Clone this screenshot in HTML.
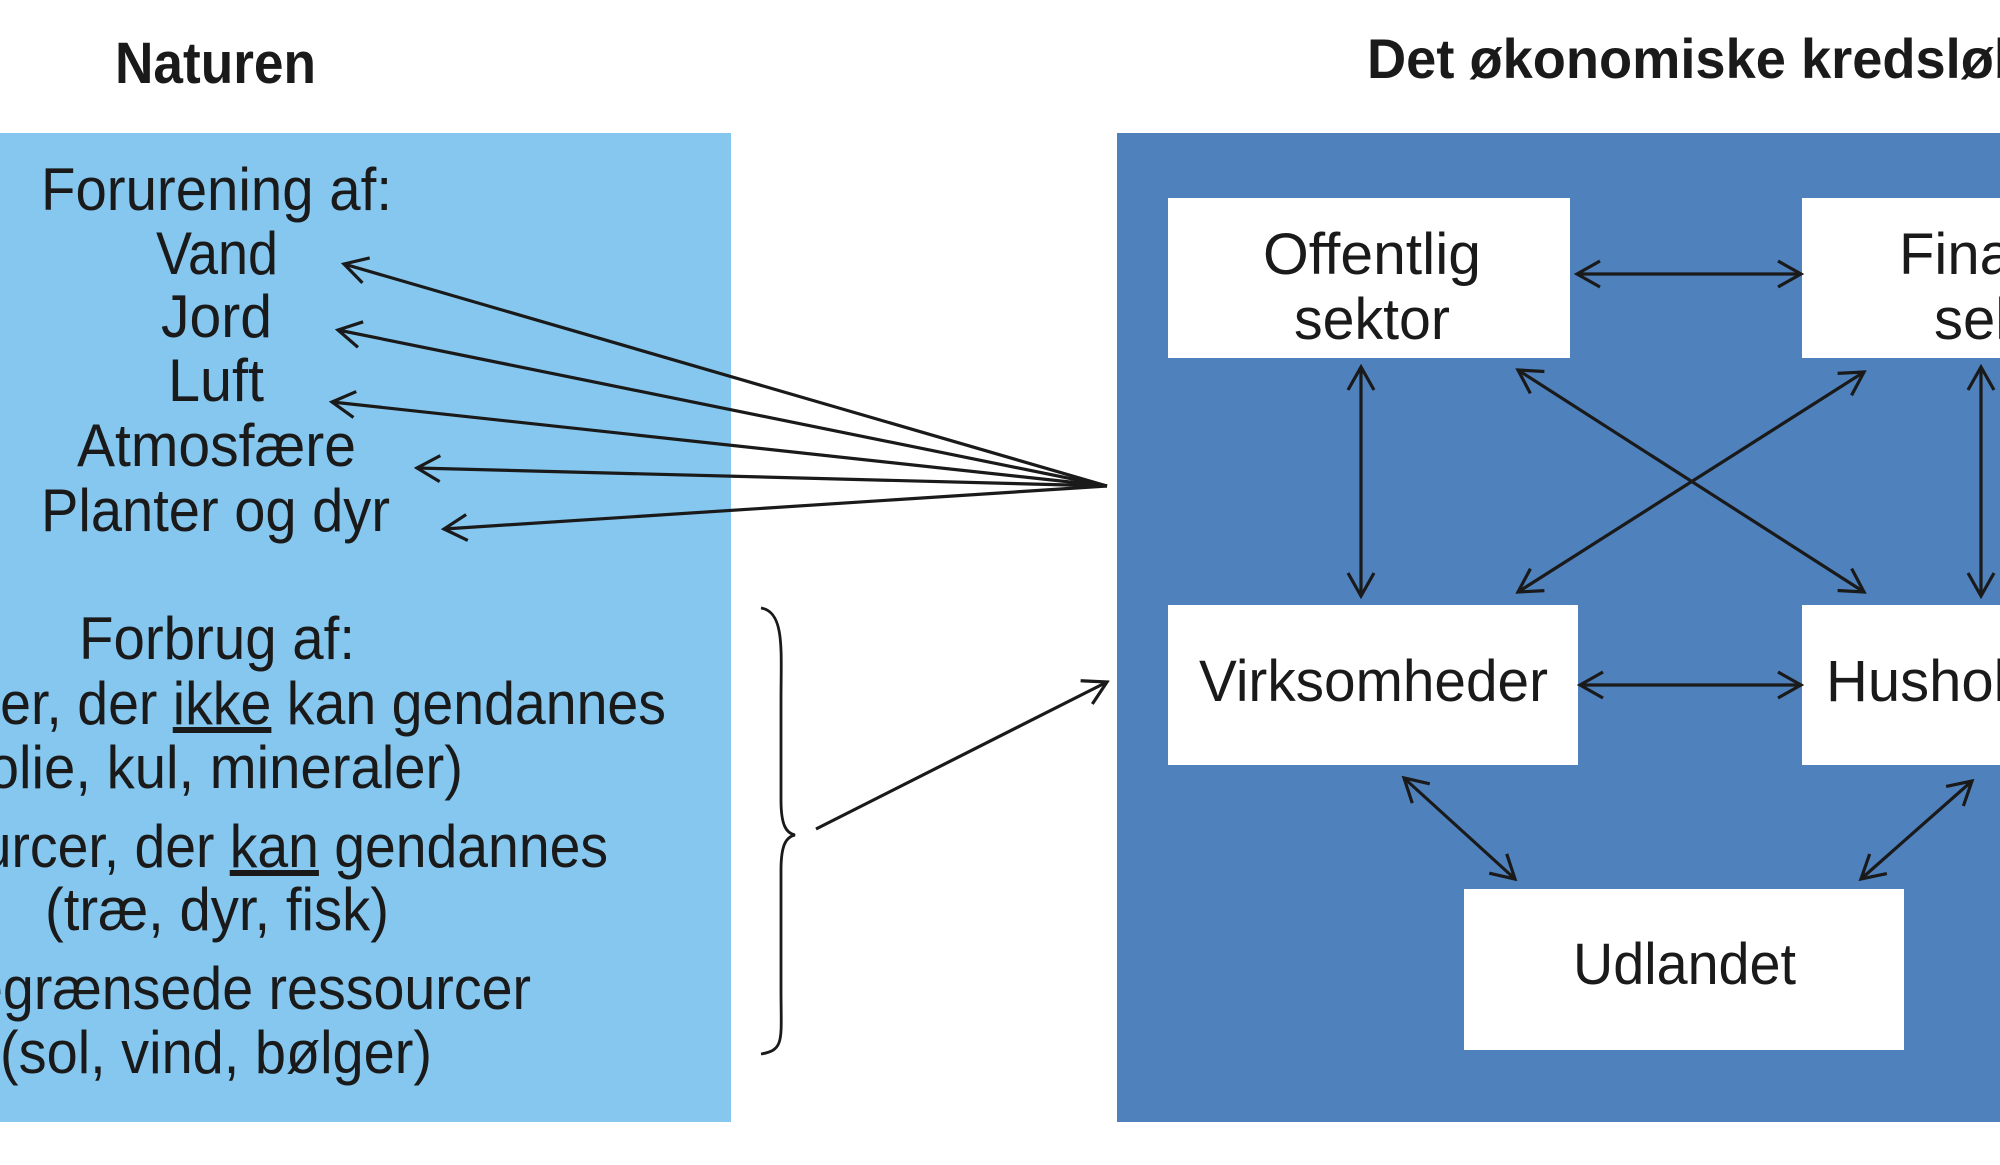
<!DOCTYPE html>
<html><head><meta charset="utf-8"><style>html,body{margin:0;padding:0;background:#fff;width:2000px;height:1165px;overflow:hidden}</style></head>
<body>
<svg width="2000" height="1165" viewBox="0 0 2000 1165" xmlns="http://www.w3.org/2000/svg" font-family="'Liberation Sans Narrow','Liberation Sans',sans-serif">
<defs>
<marker id="a" viewBox="0 0 32 32" refX="29" refY="16" markerWidth="32" markerHeight="32" markerUnits="userSpaceOnUse" orient="auto-start-reverse">
<path d="M6 3 L29 16 L6 29" fill="none" stroke="#1a1a1a" stroke-width="3.2"/>
</marker>
</defs>
<rect x="0" y="133" width="731" height="989" fill="#85C7EF"/>
<rect x="1117" y="133" width="883" height="989" fill="#4F81BD"/>
<text x="115" y="83" font-size="58" font-weight="bold" textLength="201" lengthAdjust="spacingAndGlyphs" fill="#1a1a1a">Naturen</text>
<text x="1367" y="78" font-size="56" font-weight="bold" textLength="660" lengthAdjust="spacingAndGlyphs" fill="#1a1a1a">Det økonomiske kredsløb</text>
<g font-size="60" fill="#1a1a1a">
<text x="41" y="210" textLength="351" lengthAdjust="spacingAndGlyphs">Forurening af:</text>
<text x="156" y="274" textLength="122" lengthAdjust="spacingAndGlyphs">Vand</text>
<text x="161" y="337" textLength="111" lengthAdjust="spacingAndGlyphs">Jord</text>
<text x="168" y="401" textLength="96" lengthAdjust="spacingAndGlyphs">Luft</text>
<text x="77" y="466" textLength="279" lengthAdjust="spacingAndGlyphs">Atmosfære</text>
<text x="41" y="531" textLength="349" lengthAdjust="spacingAndGlyphs">Planter og dyr</text>
<text x="79" y="659" textLength="276" lengthAdjust="spacingAndGlyphs">Forbrug af:</text>
<text x="-234" y="724" textLength="900" lengthAdjust="spacingAndGlyphs">Ressourcer, der <tspan text-decoration="underline">ikke</tspan> kan gendannes</text>
<text x="-31" y="788" textLength="494" lengthAdjust="spacingAndGlyphs">(olie, kul, mineraler)</text>
<text x="-176" y="867" textLength="784" lengthAdjust="spacingAndGlyphs">Ressourcer, der <tspan text-decoration="underline">kan</tspan> gendannes</text>
<text x="45" y="930" textLength="344" lengthAdjust="spacingAndGlyphs">(træ, dyr, fisk)</text>
<text x="-99" y="1009" textLength="630" lengthAdjust="spacingAndGlyphs">Ubegrænsede ressourcer</text>
<text x="0" y="1073" textLength="432" lengthAdjust="spacingAndGlyphs">(sol, vind, bølger)</text>
</g>
<g stroke="#1a1a1a" stroke-width="3.2" fill="none">
<line x1="1107" y1="486" x2="344" y2="264" marker-end="url(#a)"/>
<line x1="1107" y1="486" x2="338" y2="330" marker-end="url(#a)"/>
<line x1="1107" y1="486" x2="332" y2="402" marker-end="url(#a)"/>
<line x1="1107" y1="486" x2="417" y2="468" marker-end="url(#a)"/>
<line x1="1107" y1="486" x2="444" y2="529" marker-end="url(#a)"/>
<path d="M761 608 C785 612 781 650 781 700 L781 800 C781 825 786 833 795 835 C786 837 781 845 781 870 L781 990 C781 1040 785 1050 761 1054" stroke-width="2.8"/>
<line x1="816" y1="829" x2="1107" y2="682" marker-end="url(#a)"/>
</g>
<g fill="#fff">
<rect x="1168" y="198" width="402" height="160"/>
<rect x="1802" y="198" width="220" height="160"/>
<rect x="1168" y="605" width="410" height="160"/>
<rect x="1802" y="605" width="220" height="160"/>
<rect x="1464" y="889" width="440" height="161"/>
</g>
<g font-family="'Liberation Sans',sans-serif" font-size="58" fill="#1a1a1a">
<text x="1263" y="274" textLength="218" lengthAdjust="spacingAndGlyphs">Offentlig</text>
<text x="1294" y="339" textLength="156" lengthAdjust="spacingAndGlyphs">sektor</text>
<text x="1899" y="274">Finansiel</text>
<text x="1934" y="339">sektor</text>
<text x="1199" y="701" textLength="349" lengthAdjust="spacingAndGlyphs">Virksomheder</text>
<text x="1826" y="701">Husholdninger</text>
<text x="1573" y="984" textLength="223" lengthAdjust="spacingAndGlyphs">Udlandet</text>
</g>
<g stroke="#1a1a1a" stroke-width="3.2" fill="none">
<line x1="1577" y1="274" x2="1801" y2="274" marker-start="url(#a)" marker-end="url(#a)"/>
<line x1="1361" y1="367" x2="1361" y2="596" marker-start="url(#a)" marker-end="url(#a)"/>
<line x1="1981" y1="367" x2="1981" y2="596" marker-start="url(#a)" marker-end="url(#a)"/>
<line x1="1518" y1="370" x2="1864" y2="592" marker-start="url(#a)" marker-end="url(#a)"/>
<line x1="1864" y1="372" x2="1518" y2="592" marker-start="url(#a)" marker-end="url(#a)"/>
<line x1="1580" y1="685" x2="1801" y2="685" marker-start="url(#a)" marker-end="url(#a)"/>
<line x1="1404" y1="778" x2="1515" y2="879" marker-start="url(#a)" marker-end="url(#a)"/>
<line x1="1972" y1="781" x2="1861" y2="879" marker-start="url(#a)" marker-end="url(#a)"/>
</g>
</svg>
</body></html>
